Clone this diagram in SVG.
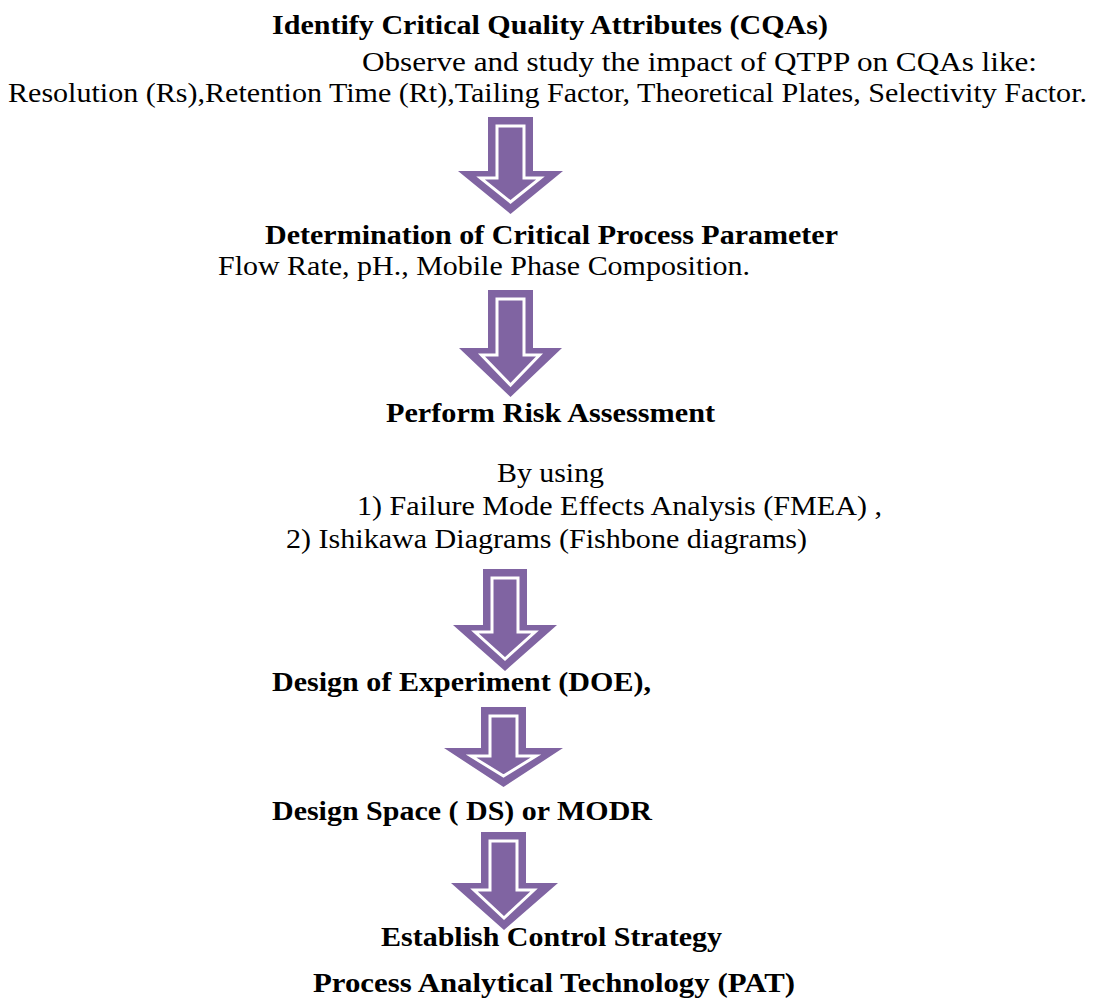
<svg xmlns="http://www.w3.org/2000/svg" width="1095" height="1006" viewBox="0 0 1095 1006">
<style>
text{font-family:"Liberation Serif","Times New Roman",serif;font-size:28px;fill:#000}
.b{font-weight:bold}
.ao{fill:#8064A2}
.ai{fill:#8064A2;stroke:#fff;stroke-width:3;stroke-linejoin:miter}
</style>
<rect width="1095" height="1006" fill="#fff"/>
<g id="node-cqa">
<text class="b" x="272" y="34" textLength="556" lengthAdjust="spacingAndGlyphs">Identify Critical Quality Attributes (CQAs)</text>
<text x="362" y="71" textLength="675" lengthAdjust="spacingAndGlyphs">Observe and study the impact of QTPP on CQAs like:</text>
<text x="8" y="102" textLength="1079" lengthAdjust="spacingAndGlyphs">Resolution (Rs),Retention Time (Rt),Tailing Factor, Theoretical Plates, Selectivity Factor.</text>
</g>
<g id="node-cpp">
<text class="b" x="265" y="244" textLength="573" lengthAdjust="spacingAndGlyphs">Determination of Critical Process Parameter</text>
<text x="218" y="275" textLength="532" lengthAdjust="spacingAndGlyphs">Flow Rate, pH., Mobile Phase Composition.</text>
</g>
<g id="node-risk">
<text class="b" x="386" y="422" textLength="329" lengthAdjust="spacingAndGlyphs">Perform Risk Assessment</text>
<text x="497" y="482" textLength="107" lengthAdjust="spacingAndGlyphs">By using</text>
<text x="357" y="515" textLength="525" lengthAdjust="spacingAndGlyphs">1) Failure Mode Effects Analysis (FMEA) ,</text>
<text x="286" y="548" textLength="521" lengthAdjust="spacingAndGlyphs">2) Ishikawa Diagrams (Fishbone diagrams)</text>
</g>
<g id="node-doe">
<text class="b" x="272" y="691" textLength="379" lengthAdjust="spacingAndGlyphs">Design of Experiment (DOE),</text>
</g>
<g id="node-ds">
<text class="b" x="272" y="820" textLength="380" lengthAdjust="spacingAndGlyphs">Design Space ( DS) or MODR</text>
</g>
<g id="node-control">
<text class="b" x="381" y="946" textLength="341" lengthAdjust="spacingAndGlyphs">Establish Control Strategy</text>
<text class="b" x="313" y="992" textLength="482" lengthAdjust="spacingAndGlyphs">Process Analytical Technology (PAT)</text>
</g>
<g id="connectors">
<g id="arrow1">
<path class="ao" d="M488,117H533V171H563L510.5,214L458,171H488Z"/>
<path class="ai" d="M497,126H524V178H540.5L510.5,202L480.5,178H497Z"/>
</g>
<g id="arrow2">
<path class="ao" d="M488,290H533V348H562L510.5,397L459,348H488Z"/>
<path class="ai" d="M497,299H524V355H539.5L510.5,385L481.5,355H497Z"/>
</g>
<g id="arrow3">
<path class="ao" d="M483,569H527V625H557L505,671L453,625H483Z"/>
<path class="ai" d="M492,578H518V632H535L505,659L475,632H492Z"/>
</g>
<g id="arrow4">
<path class="ao" d="M481,707H526V748H563L503.5,787L444,748H481Z"/>
<path class="ai" d="M490,716H517V756H536L503.5,776L471,756H490Z"/>
</g>
<g id="arrow5">
<path class="ao" d="M481,832H526V883H558L504,930L451,883H481Z"/>
<path class="ai" d="M490,841H517V890H534L504,918L474,890H490Z"/>
</g>
</g>
</svg>
